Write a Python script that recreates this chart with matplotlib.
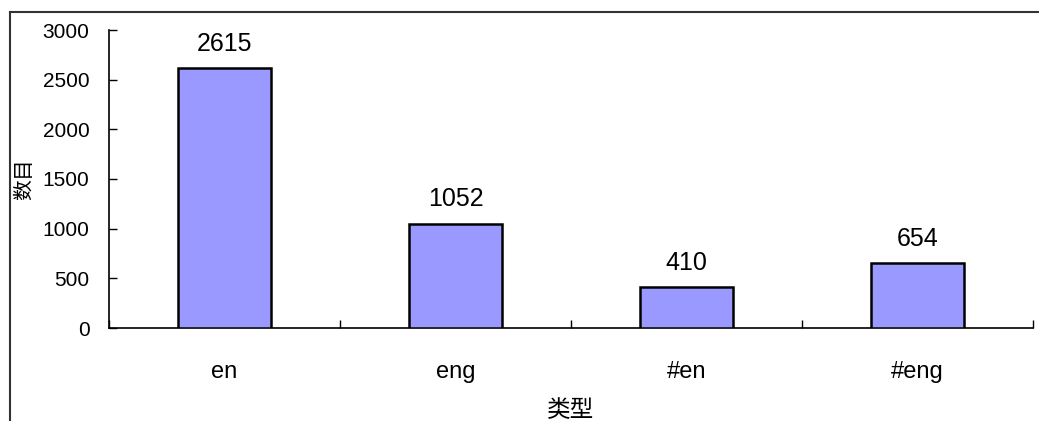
import matplotlib
matplotlib.use("Agg")
import matplotlib.pyplot as plt
from matplotlib.lines import Line2D

plt.rcParams['font.family'] = ['Liberation Sans', 'Noto Sans CJK SC', 'DejaVu Sans']

categories = ['en', 'eng', '#en', '#eng']
values = [2615, 1052, 410, 654]
yticks = [0, 500, 1000, 1500, 2000, 2500, 3000]

W, H = 1039, 421
fig = plt.figure(figsize=(W / 100, H / 100), dpi=100)
ax = fig.add_axes([109 / W, 1 - 328 / H, (1033 - 109) / W, (328 - 30) / H])

x = list(range(len(categories)))
bars = ax.bar(x, values, width=0.40, color='#9999FF', edgecolor='black', linewidth=1.8, zorder=3)
for xi, v in zip(x, values):
    ax.annotate(f'{v}', (xi, v), xytext=(0, 9), textcoords='offset points',
                ha='center', va='bottom', fontsize=18)

ax.set_xlim(-0.5, len(categories) - 0.5)
ax.set_ylim(0, 3000)
ax.set_yticks(yticks)
ax.set_yticklabels([str(t) for t in yticks], fontsize=15)
ax.set_xticks(x)
ax.set_xticklabels(categories, fontsize=17)
ax.set_xticks([i - 0.5 for i in range(len(categories) + 1)], minor=True)

ax.tick_params(axis='y', direction='in', length=6, width=1, pad=14)
ax.tick_params(axis='x', which='major', length=0, pad=24)
ax.tick_params(axis='x', which='minor', direction='in', length=6, width=1)

for s in ['top', 'right']:
    ax.spines[s].set_visible(False)
for s in ['left', 'bottom']:
    ax.spines[s].set_linewidth(1.2)

ax.set_xlabel('类型', fontsize=17, labelpad=12)
ax.set_ylabel('数目', fontsize=15, labelpad=6)

# outer chart frame (cut off at right and bottom)
fig.add_artist(Line2D([9.5 / W, 9.5 / W], [0, 1 - 12 / H], color='#333333', linewidth=1.5,
                      transform=fig.transFigure))
fig.add_artist(Line2D([9.5 / W, 1], [1 - 12 / H, 1 - 12 / H], color='#333333', linewidth=1.5,
                      transform=fig.transFigure))

fig.savefig('out.png', dpi=100)
